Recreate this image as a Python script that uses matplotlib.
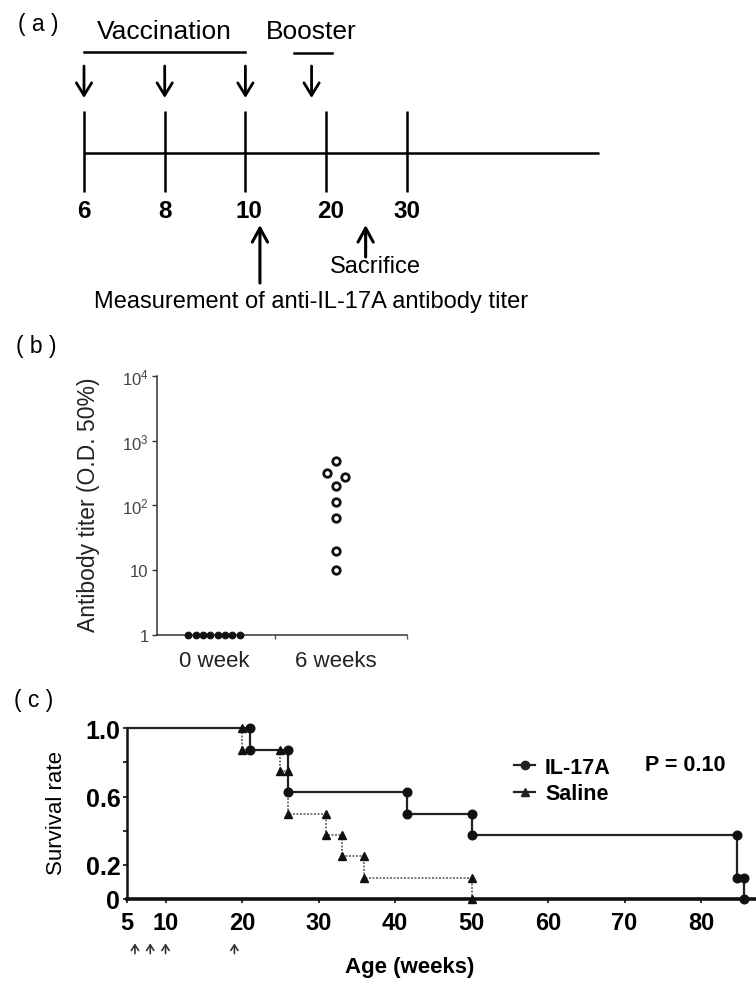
import numpy as np
import matplotlib
matplotlib.use('Agg')
import matplotlib.pyplot as plt
from matplotlib.lines import Line2D

plt.rcParams['font.family'] = ['Liberation Sans', 'DejaVu Sans']
plt.rcParams['mathtext.fontset'] = 'custom'
plt.rcParams['mathtext.rm'] = 'Liberation Sans'

# ---------------- data ----------------
# (a) experimental timeline (weeks of age)
timeline_labels = ['6', '8', '10', '20', '30']
vaccination_idx = [0, 1, 2]          # vaccinations at 6, 8, 10 weeks
booster_idx = [2.82]                 # booster between 10 and 20 weeks
measure_idx = 2.18                   # antibody titer measurement
sacrifice_idx = 3.49                 # sacrifice

# (b) antibody titers
titer_groups = ['0 week', '6 weeks']
titer_0w = [1, 1, 1, 1, 1, 1, 1, 1]
titer_6w = [490, 310, 270, 200, 112, 64, 19.5, 10]
titer_ticks = [1, 10, 100, 1000, 10000]
titer_ticklabels = ['1', '10', r'$\mathregular{10^2}$', r'$\mathregular{10^3}$', r'$\mathregular{10^4}$']

# (c) survival curves
il17_t = [5, 21, 26, 41.5, 50, 84.7, 85.6]
il17_s = [1.0, 0.875, 0.625, 0.5, 0.375, 0.125, 0.0]
saline_t = [5, 20, 25, 26, 31, 33, 36, 50]
saline_s = [1.0, 0.875, 0.75, 0.5, 0.375, 0.25, 0.125, 0.0]
vacc_arrow_weeks = [6, 8, 10, 19]
surv_xticks = [5, 10, 20, 30, 40, 50, 60, 70, 80]
surv_yticks = [0, 0.2, 0.4, 0.6, 0.8, 1.0]
surv_yticklabels = ['0', '0.2', '', '0.6', '', '1.0']
p_text = 'P = 0.10'

# ---------------- figure ----------------
W, H = 756, 987
DPI = 100
fig = plt.figure(figsize=(W / DPI, H / DPI), dpi=DPI)


def fx(px):
    return px / W


def fy(py):
    return 1 - py / H


# ======== panel (a) ========
A_H = 315
ax_a = fig.add_axes([0, fy(A_H), 1, A_H / H])
step_px, x0_px = 80.7, 84
ax_a.set_xlim((0 - x0_px) / step_px, (W - x0_px) / step_px)
ax_a.set_ylim(A_H, 0)
ax_a.axis('off')

line_end = (599 - x0_px) / step_px
ax_a.plot([0, line_end], [154, 154], color='k', lw=1.8, solid_capstyle='butt')
for i, lab in enumerate(timeline_labels):
    ax_a.plot([i, i], [112, 193], color='k', lw=1.8, solid_capstyle='butt')
    ax_a.text(i + (0.05 if lab in ('10', '20') else 0), 211, lab, ha='center', va='center',
              fontsize=17.5, fontweight='bold')

down_style = dict(arrowstyle='->, head_width=0.55, head_length=0.9', lw=2.0, color='k',
                  shrinkA=0, shrinkB=0)
for xi in vaccination_idx + booster_idx:
    ax_a.annotate('', xy=(xi, 99), xytext=(xi, 67), arrowprops=down_style)

# vaccination bracket + text
ax_a.plot([vaccination_idx[0], vaccination_idx[-1]], [52.5, 52.5], color='k', lw=1.8)
ax_a.text(np.mean(vaccination_idx), 32, 'Vaccination', ha='center', va='center', fontsize=19)
# booster bracket + text
b = booster_idx[0]
ax_a.plot([b - 0.22, b + 0.25], [53.5, 53.5], color='k', lw=1.8)
ax_a.text(b, 32, 'Booster', ha='center', va='center', fontsize=19)

up_style = dict(arrowstyle='->, head_width=0.55, head_length=1.0', lw=2.2, color='k',
                shrinkA=0, shrinkB=0)
ax_a.annotate('', xy=(measure_idx, 226), xytext=(measure_idx, 284), arrowprops=up_style)
ax_a.annotate('', xy=(sacrifice_idx, 226), xytext=(sacrifice_idx, 258), arrowprops=up_style)
ax_a.text(sacrifice_idx + 0.12, 267, 'Sacrifice', ha='center', va='center', fontsize=17)
ax_a.text(2.81, 302, 'Measurement of anti-IL-17A antibody titer', ha='center', va='center',
          fontsize=17)

# ======== panel (b) ========
bl, br, bb, bt = 157, 407, 636, 376.7
ax_b = fig.add_axes([fx(bl), fy(bb), (br - bl) / W, (bb - bt) / H])
ax_b.set_yscale('log')
ax_b.set_ylim(1, 1e4)
ax_b.set_xlim(-0.467, 1.582)


def swarm_offsets(vals, row_step, col_step, thr):
    vals = np.asarray(vals, dtype=float)
    n = len(vals)
    if np.allclose(vals, vals[0]):
        return np.linspace(-(n - 1) / 2, (n - 1) / 2, n) * row_step
    lv = np.log10(vals)
    order = np.argsort(-lv)
    offs = np.zeros(n)
    clusters, cur = [], [order[0]]
    for k in order[1:]:
        if lv[cur[-1]] - lv[k] < thr:
            cur.append(k)
        else:
            clusters.append(cur)
            cur = [k]
    clusters.append(cur)
    seq = [-1, 1, 0, -2, 2, -3, 3]
    for c in clusters:
        if len(c) == 1:
            continue
        for j, k in enumerate(c):
            offs[k] = seq[j] * col_step
    return offs


off0 = swarm_offsets(titer_0w, 0.06, 0.076, 0.15)
off6 = swarm_offsets(titer_6w, 0.06, 0.076, 0.15)
ax_b.plot(0 + off0, titer_0w, 'o', ms=4.8, mfc='#111', mec='#111', mew=0.8,
          clip_on=False, zorder=3)
ax_b.plot(1 + off6, titer_6w, 'o', ms=5.4, mfc='white', mec='#111', mew=2.0,
          clip_on=False, zorder=3)

for s in ('top', 'right'):
    ax_b.spines[s].set_visible(False)
for s in ('left', 'bottom'):
    ax_b.spines[s].set_color('#333')
    ax_b.spines[s].set_linewidth(1.1)
ax_b.set_yticks(titer_ticks)
ax_b.set_yticklabels(titer_ticklabels)
ax_b.yaxis.set_minor_locator(matplotlib.ticker.NullLocator())
ax_b.tick_params(axis='y', which='major', length=3.5, width=1, color='#333',
                 labelsize=12, labelcolor='#444', pad=2.5)
ax_b.set_xticks([0, 1])
ax_b.set_xticklabels(titer_groups)
ax_b.set_xticks([0.5, 1.582], minor=True)
ax_b.tick_params(axis='x', which='major', length=0, labelsize=16, labelcolor='#222', pad=11)
ax_b.tick_params(axis='x', which='minor', length=3, width=1, color='#555')
fig.text(fx(89), fy(505), 'Antibody titer (O.D. 50%)', rotation=90, ha='center', va='center',
         fontsize=16.5, color='#222')

# ======== panel (c) ========
cl, cb, ct = 127.3, 900, 729.3
ax_c = fig.add_axes([fx(cl), fy(cb), 1 - fx(cl), (cb - ct) / H])
px_per_week = 7.65
ax_c.set_xlim(5, 5 + (W - cl) / px_per_week)
ax_c.set_ylim(0, 1)

ax_c.step(saline_t, saline_s, where='post', color='#777', lw=1.4, ls=(0, (1, 0.8)),
          clip_on=False, zorder=2)
ax_c.step(il17_t, il17_s, where='post', color='#222', lw=1.6, clip_on=False, zorder=3)


def drop_points(t, s):
    t = np.asarray(t)
    s = np.asarray(s)
    xs = np.concatenate([t[1:], t[1:]])
    ys = np.concatenate([s[:-1], s[1:]])
    return xs, ys


xs, ys = drop_points(saline_t, saline_s)
ax_c.plot(xs, ys, '^', ms=5.8, color='#111', clip_on=False, zorder=4)
xs, ys = drop_points(il17_t, il17_s)
ax_c.plot(xs, ys, 'o', ms=6.2, color='#111', clip_on=False, zorder=5)

for s in ('top', 'right'):
    ax_c.spines[s].set_visible(False)
ax_c.spines['left'].set_linewidth(1.8)
ax_c.spines['bottom'].set_linewidth(2.6)
ax_c.spines['left'].set_color('#111')
ax_c.spines['bottom'].set_color('#111')
ax_c.set_xticks(surv_xticks)
ax_c.set_xticklabels([str(v) for v in surv_xticks], fontweight='bold')
ax_c.set_yticks(surv_yticks)
ax_c.set_yticklabels(surv_yticklabels, fontweight='bold')
ax_c.tick_params(axis='both', length=3, width=1.2, color='#111')
ax_c.tick_params(axis='x', pad=6, labelsize=17)
ax_c.tick_params(axis='y', pad=2, labelsize=18)

arrow_small = dict(arrowstyle='->, head_width=0.26, head_length=0.4', lw=1.2, color='#333',
                   shrinkA=0, shrinkB=0)
for w in vacc_arrow_weeks:
    ax_c.annotate('', xy=(w, -0.26), xytext=(w, -0.32),
                  xycoords=('data', 'axes fraction'), textcoords=('data', 'axes fraction'),
                  arrowprops=arrow_small, annotation_clip=False)

handles = [Line2D([], [], color='#222', lw=1.6, marker='o', ms=6),
           Line2D([], [], color='#222', lw=1.6, marker='^', ms=5.5)]
leg = fig.legend(handles, ['IL-17A', 'Saline'], loc='upper left',
                 bbox_to_anchor=(fx(503), fy(747)), frameon=False, borderpad=0,
                 handlelength=1.0, handletextpad=0.45, labelspacing=0.25,
                 prop={'size': 15.5, 'weight': 'bold'})
fig.text(fx(645), fy(766), p_text, fontsize=15.5, fontweight='bold', va='center', ha='left')

fig.text(fx(57), fy(813), 'Survival rate', rotation=90, ha='center', va='center', fontsize=16)
fig.text(fx(410), fy(968), 'Age (weeks)', ha='center', va='center', fontsize=16,
         fontweight='bold')

# panel labels
fig.text(fx(38), fy(24), '( a )', ha='center', va='center', fontsize=16.5)
fig.text(fx(36), fy(347), '( b )', ha='center', va='center', fontsize=16.5)
fig.text(fx(34), fy(700), '( c )', ha='center', va='center', fontsize=16.5)

fig.savefig('out.png', dpi=DPI)
